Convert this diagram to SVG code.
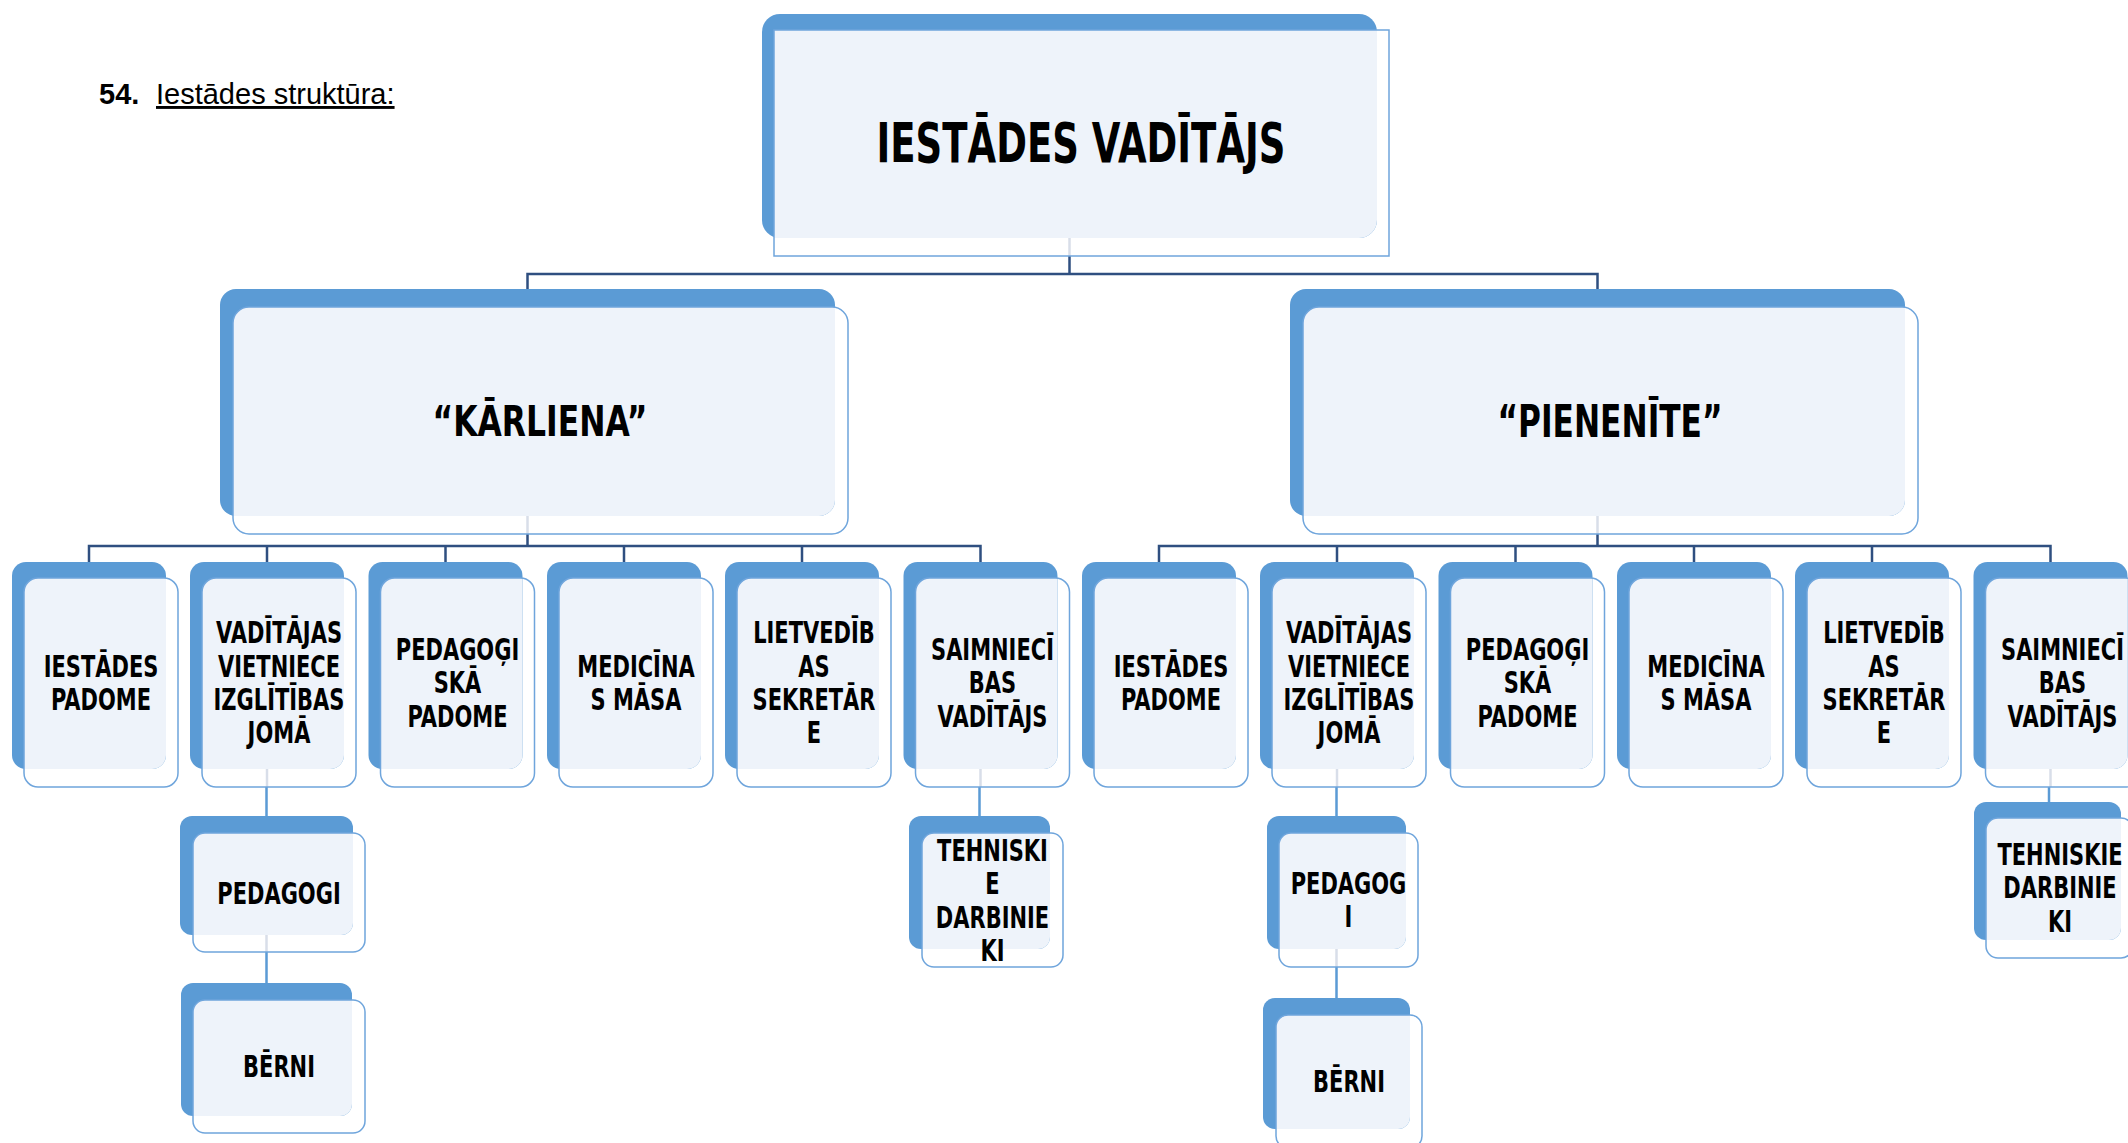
<svg xmlns="http://www.w3.org/2000/svg" xmlns:xlink="http://www.w3.org/1999/xlink" width="2128" height="1143" viewBox="0 0 2128 1143">
<style>
.back{fill:#5B9BD5}
.fill{fill:#EEF3FA}
.edge{fill:none;stroke:#6FA5DC;stroke-width:1.5}
.t{font-family:"DejaVu Sans","Liberation Sans",sans-serif;font-weight:bold;font-size:30px;fill:#000;text-anchor:middle}
.big{font-family:"DejaVu Sans","Liberation Sans",sans-serif;font-weight:bold;fill:#000;text-anchor:middle}
.conn{stroke:#2F4F80;stroke-width:2.5;fill:none}
.conn2{stroke:#5B9BD5;stroke-width:2.5;fill:none}
.faint{stroke:#D8DEE9;stroke-width:2.5;fill:none}
.hdr{font-family:"Liberation Sans",Arial,sans-serif;font-size:29px;fill:#000}
</style>
<defs>
<g id="card3">
<rect class="back" x="0" y="0" width="154" height="207" rx="14"/>
<path class="fill" d="M26 16 H154 V193 A14 14 0 0 1 140 207 H12 V30 A14 14 0 0 1 26 16 Z"/>
<rect class="edge" x="12" y="16" width="154" height="209" rx="14"/>
</g>
<g id="card2">
<rect class="back" x="0" y="0" width="615" height="227" rx="16"/>
<path class="fill" d="M29 18 H615 V211 A16 16 0 0 1 599 227 H13 V34 A16 16 0 0 1 29 18 Z"/>
<rect class="edge" x="13" y="18" width="615" height="227" rx="16"/>
</g>
</defs>

<g id="header">
<text class="hdr" x="99" y="104" font-weight="bold">54.</text>
<text class="hdr" x="156" y="104" style="text-decoration:underline">Iestādes struktūra:</text>
</g>

<g id="connectors">
<line class="faint" x1="1069.5" y1="238" x2="1069.5" y2="256"/>
<path class="conn" d="M1069.5 256 V274 M527.5 289 V274 H1597.5 V289"/>
<line class="faint" x1="527.5" y1="516" x2="527.5" y2="534"/>
<line class="faint" x1="1597.5" y1="516" x2="1597.5" y2="534"/>
<path class="conn" d="M527.5 534 V546 M89 562 V546 H980.5 V562 M267 546 V562 M445.5 546 V562 M624 546 V562 M802 546 V562"/>
<path class="conn" d="M1597.5 534 V546 M1159 562 V546 H2050.5 V562 M1337 546 V562 M1515.5 546 V562 M1694 546 V562 M1872 546 V562"/>
<line class="faint" x1="267" y1="769" x2="267" y2="787"/>
<line class="faint" x1="980.5" y1="769" x2="980.5" y2="787"/>
<line class="faint" x1="1337" y1="769" x2="1337" y2="787"/>
<line class="faint" x1="2050.5" y1="769" x2="2050.5" y2="787"/>
<path class="conn2" d="M266.5 787 V816 M266.5 952 V983 M979.5 787 V816 M1336.5 787 V816 M1336.5 967 V998 M2049 787 V802"/>
<line class="faint" x1="266.5" y1="935" x2="266.5" y2="952"/>
<line class="faint" x1="1336.5" y1="949" x2="1336.5" y2="967"/>
</g>

<g id="n-vaditajs">
<rect class="back" x="762" y="14" width="615" height="224" rx="18"/>
<path class="fill" d="M774 30 H1377 V220 A18 18 0 0 1 1359 238 H774 Z"/>
<rect class="edge" x="774" y="30" width="615" height="226"/>
<text class="big" x="1081" y="162" font-size="56" textLength="409" lengthAdjust="spacingAndGlyphs">IESTĀDES VADĪTĀJS</text>
</g>

<g id="n-karliena" transform="translate(220 289)">
<use href="#card2"/>
<text class="big" x="320" y="147" font-size="43" textLength="215" lengthAdjust="spacingAndGlyphs">“KĀRLIENA”</text>
</g>

<g id="n-pienenite" transform="translate(1290 289)">
<use href="#card2"/>
<text class="big" x="320" y="148" font-size="44" textLength="225" lengthAdjust="spacingAndGlyphs">“PIENENĪTE”</text>
</g>

<g id="n-l1" transform="translate(12 562)"><use href="#card3"/>
<text class="t" transform="translate(89 0) scale(0.7 1)"><tspan x="0" y="115">IESTĀDES</tspan><tspan x="0" y="148">PADOME</tspan></text></g>
<g id="n-l2" transform="translate(190 562)"><use href="#card3"/>
<text class="t" transform="translate(89 0) scale(0.7 1)"><tspan x="0" y="81.5">VADĪTĀJAS</tspan><tspan x="0" y="114.8">VIETNIECE</tspan><tspan x="0" y="148.2">IZGLĪTĪBAS</tspan><tspan x="0" y="181.5">JOMĀ</tspan></text></g>
<g id="n-l3" transform="translate(368.5 562)"><use href="#card3"/>
<text class="t" transform="translate(89 0) scale(0.7 1)"><tspan x="0" y="98">PEDAGOĢI</tspan><tspan x="0" y="131.5">SKĀ</tspan><tspan x="0" y="165">PADOME</tspan></text></g>
<g id="n-l4" transform="translate(547 562)"><use href="#card3"/>
<text class="t" transform="translate(89 0) scale(0.7 1)"><tspan x="0" y="115">MEDICĪNA</tspan><tspan x="0" y="148">S MĀSA</tspan></text></g>
<g id="n-l5" transform="translate(725 562)"><use href="#card3"/>
<text class="t" transform="translate(89 0) scale(0.7 1)"><tspan x="0" y="81.5">LIETVEDĪB</tspan><tspan x="0" y="114.8">AS</tspan><tspan x="0" y="148.2">SEKRETĀR</tspan><tspan x="0" y="181.5">E</tspan></text></g>
<g id="n-l6" transform="translate(903.5 562)"><use href="#card3"/>
<text class="t" transform="translate(89 0) scale(0.7 1)"><tspan x="0" y="98">SAIMNIECĪ</tspan><tspan x="0" y="131.5">BAS</tspan><tspan x="0" y="165">VADĪTĀJS</tspan></text></g>

<g id="n-r1" transform="translate(1082 562)"><use href="#card3"/>
<text class="t" transform="translate(89 0) scale(0.7 1)"><tspan x="0" y="115">IESTĀDES</tspan><tspan x="0" y="148">PADOME</tspan></text></g>
<g id="n-r2" transform="translate(1260 562)"><use href="#card3"/>
<text class="t" transform="translate(89 0) scale(0.7 1)"><tspan x="0" y="81.5">VADĪTĀJAS</tspan><tspan x="0" y="114.8">VIETNIECE</tspan><tspan x="0" y="148.2">IZGLĪTĪBAS</tspan><tspan x="0" y="181.5">JOMĀ</tspan></text></g>
<g id="n-r3" transform="translate(1438.5 562)"><use href="#card3"/>
<text class="t" transform="translate(89 0) scale(0.7 1)"><tspan x="0" y="98">PEDAGOĢI</tspan><tspan x="0" y="131.5">SKĀ</tspan><tspan x="0" y="165">PADOME</tspan></text></g>
<g id="n-r4" transform="translate(1617 562)"><use href="#card3"/>
<text class="t" transform="translate(89 0) scale(0.7 1)"><tspan x="0" y="115">MEDICĪNA</tspan><tspan x="0" y="148">S MĀSA</tspan></text></g>
<g id="n-r5" transform="translate(1795 562)"><use href="#card3"/>
<text class="t" transform="translate(89 0) scale(0.7 1)"><tspan x="0" y="81.5">LIETVEDĪB</tspan><tspan x="0" y="114.8">AS</tspan><tspan x="0" y="148.2">SEKRETĀR</tspan><tspan x="0" y="181.5">E</tspan></text></g>
<g id="n-r6" transform="translate(1973.5 562)"><use href="#card3"/>
<text class="t" transform="translate(89 0) scale(0.7 1)"><tspan x="0" y="98">SAIMNIECĪ</tspan><tspan x="0" y="131.5">BAS</tspan><tspan x="0" y="165">VADĪTĀJS</tspan></text></g>

<g id="n-l-pedagogi">
<rect class="back" x="180" y="816" width="173" height="119" rx="12"/>
<path class="fill" d="M205 833 H353 V923 A12 12 0 0 1 341 935 H193 V845 A12 12 0 0 1 205 833 Z"/>
<rect class="edge" x="193" y="833" width="172" height="119" rx="12"/>
<text class="t" transform="translate(279 0) scale(0.7 1)" x="0" y="904">PEDAGOGI</text>
</g>
<g id="n-l-berni">
<rect class="back" x="181" y="983" width="171" height="133" rx="12"/>
<path class="fill" d="M205 1000 H352 V1104 A12 12 0 0 1 340 1116 H193 V1012 A12 12 0 0 1 205 1000 Z"/>
<rect class="edge" x="193" y="1000" width="172" height="133" rx="12"/>
<text class="t" transform="translate(279 0) scale(0.7 1)" x="0" y="1077">BĒRNI</text>
</g>
<g id="n-l-tehniskie">
<rect class="back" x="909" y="816" width="141" height="133" rx="12"/>
<path class="fill" d="M934 833 H1050 V937 A12 12 0 0 1 1038 949 H922 V845 A12 12 0 0 1 934 833 Z"/>
<rect class="edge" x="922" y="833" width="141" height="134" rx="12"/>
<text class="t" transform="translate(992.5 0) scale(0.7 1)"><tspan x="0" y="861">TEHNISKI</tspan><tspan x="0" y="894">E</tspan><tspan x="0" y="928">DARBINIE</tspan><tspan x="0" y="961">KI</tspan></text>
</g>
<g id="n-r-pedagogi">
<rect class="back" x="1267" y="816" width="139" height="133" rx="12"/>
<path class="fill" d="M1291 833 H1406 V937 A12 12 0 0 1 1394 949 H1279 V845 A12 12 0 0 1 1291 833 Z"/>
<rect class="edge" x="1279" y="833" width="139" height="134" rx="12"/>
<text class="t" transform="translate(1348.5 0) scale(0.7 1)"><tspan x="0" y="894">PEDAGOG</tspan><tspan x="0" y="927">I</tspan></text>
</g>
<g id="n-r-berni">
<rect class="back" x="1263" y="998" width="147" height="131" rx="12"/>
<path class="fill" d="M1288 1015 H1410 V1117 A12 12 0 0 1 1398 1129 H1276 V1027 A12 12 0 0 1 1288 1015 Z"/>
<rect class="edge" x="1276" y="1015" width="146" height="133" rx="12"/>
<text class="t" transform="translate(1349 0) scale(0.7 1)" x="0" y="1092">BĒRNI</text>
</g>
<g id="n-r-tehniskie">
<rect class="back" x="1974" y="802" width="147" height="138" rx="12"/>
<path class="fill" d="M1998 818 H2121 V928 A12 12 0 0 1 2109 940 H1986 V830 A12 12 0 0 1 1998 818 Z"/>
<rect class="edge" x="1986" y="818" width="147" height="140" rx="12"/>
<text class="t" transform="translate(2060 0) scale(0.7 1)"><tspan x="0" y="865">TEHNISKIE</tspan><tspan x="0" y="898">DARBINIE</tspan><tspan x="0" y="932">KI</tspan></text>
</g>
</svg>
